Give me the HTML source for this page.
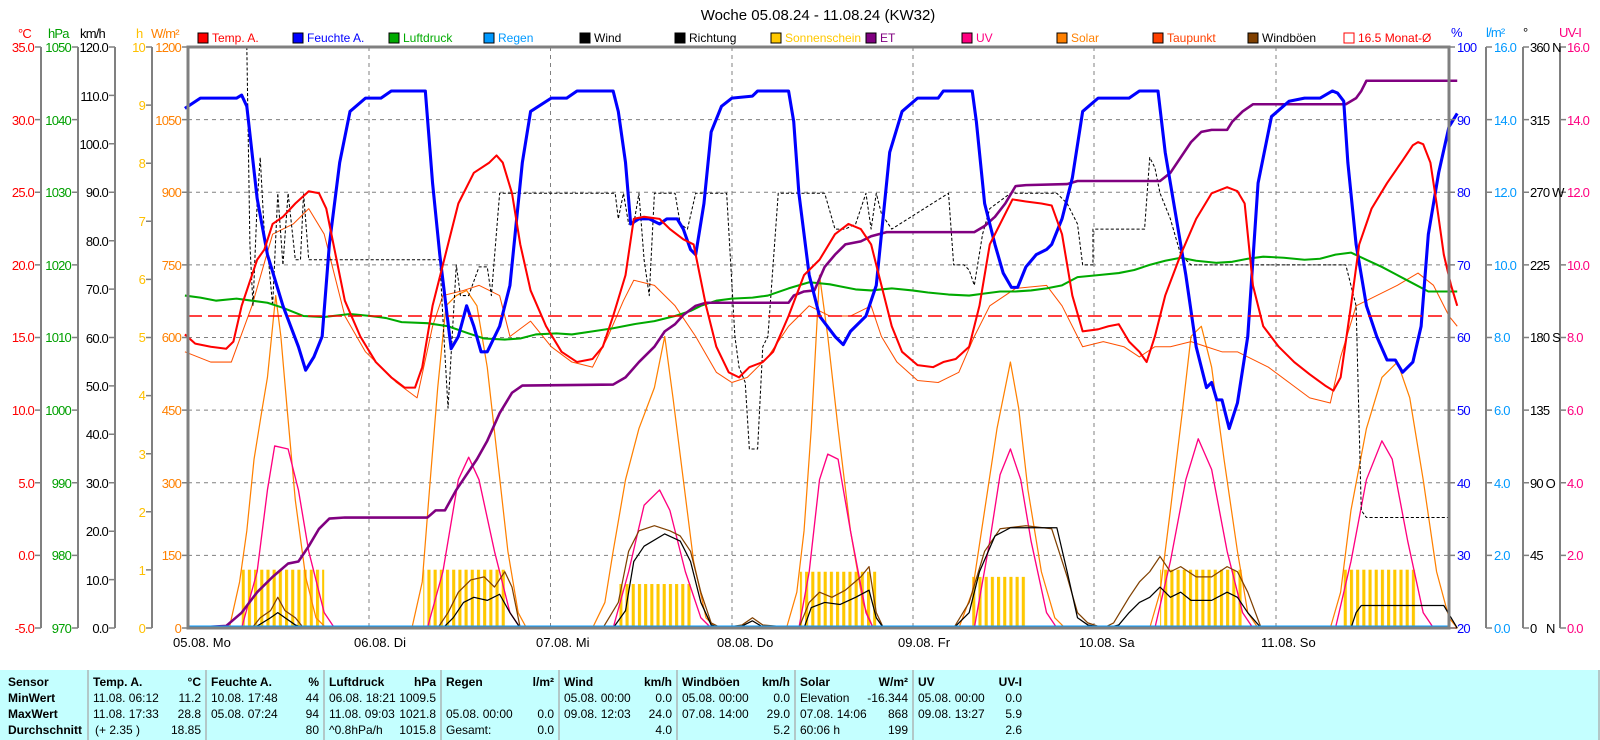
<!DOCTYPE html>
<html><head><meta charset="utf-8"><style>
html,body{margin:0;padding:0;background:#fff;}
svg{display:block;font-family:"Liberation Sans",sans-serif;}
.t{font-family:"Liberation Sans Narrow","Liberation Sans",sans-serif;font-size:12px;}
.n{font-size:13px;letter-spacing:-0.8px;}
.b{font-weight:bold;}
</style></head><body>
<svg width="1600" height="740" viewBox="0 0 1600 740" xmlns="http://www.w3.org/2000/svg">
<defs>
<pattern id="sun" x="0" y="0" width="6" height="10" patternUnits="userSpaceOnUse"><rect x="0" y="0" width="3" height="10" fill="#FFC800"/></pattern>
</defs>
<rect width="1600" height="740" fill="#fff"/>
<text x="818" y="20" font-size="15" text-anchor="middle" fill="#000">Woche 05.08.24 - 11.08.24 (KW32)</text>

<g stroke="#808080" stroke-width="1" stroke-dasharray="4,4">
<line x1="188" x2="1449" y1="119.6" y2="119.6"/><line x1="188" x2="1449" y1="192.3" y2="192.3"/>
<line x1="188" x2="1449" y1="264.9" y2="264.9"/><line x1="188" x2="1449" y1="337.5" y2="337.5"/>
<line x1="188" x2="1449" y1="410.1" y2="410.1"/><line x1="188" x2="1449" y1="482.8" y2="482.8"/>
<line x1="188" x2="1449" y1="555.4" y2="555.4"/>
<line x1="369" x2="369" y1="47" y2="628"/><line x1="550.5" x2="550.5" y1="47" y2="628"/>
<line x1="732" x2="732" y1="47" y2="628"/><line x1="913" x2="913" y1="47" y2="628"/>
<line x1="1094" x2="1094" y1="47" y2="628"/><line x1="1276" x2="1276" y1="47" y2="628"/>
</g>

<g transform="matrix(1.0319 0 0 1.0229 -6.0 -1.076)" fill="none" stroke-linejoin="round">
<rect x="240" y="558" width="80" height="57" fill="url(#sun)"/>
<rect x="416" y="558" width="80" height="57" fill="url(#sun)"/>
<rect x="606" y="572" width="70" height="43" fill="url(#sun)"/>
<rect x="781" y="560" width="74" height="55" fill="url(#sun)"/>
<rect x="946" y="565" width="55" height="50" fill="url(#sun)"/>
<rect x="1130" y="558" width="80" height="57" fill="url(#sun)"/>
<rect x="1306" y="558" width="74" height="57" fill="url(#sun)"/>
<polyline stroke="#FF8000" stroke-width="1.2" points="188,615 228,615 238,570 245,520 252,450 260,400 265,370 270,320 273,290 278,330 284,400 292,490 302,565 312,605 322,615 405,615 415,570 422,480 430,380 438,300 448,290 458,285 468,300 478,360 488,450 498,540 508,600 516,615 580,615 592,590 600,540 612,470 625,420 640,380 650,330 658,390 668,470 678,550 690,605 700,615 768,615 778,580 785,520 792,420 800,270 808,330 818,420 830,520 842,590 852,615 935,615 948,580 960,500 972,420 985,355 993,400 1002,480 1015,560 1028,605 1038,615 1120,615 1130,580 1140,500 1152,400 1160,330 1170,320 1180,360 1192,450 1205,540 1215,600 1225,615 1295,615 1305,580 1315,500 1330,420 1345,370 1360,355 1372,390 1385,470 1398,560 1410,605 1418,615"/>
<polyline stroke="#FF5000" stroke-width="1" points="185,345 210,355 230,355 250,300 270,230 290,220 305,205 320,230 340,310 360,345 390,375 410,390 425,320 435,290 455,285 470,280 490,290 500,330 520,315 540,340 560,355 580,360 595,330 610,295 620,275 640,280 660,300 680,330 700,365 715,375 730,370 750,350 770,320 790,300 810,310 830,310 850,300 860,330 875,355 895,373 915,375 935,365 950,330 965,300 990,283 1020,280 1035,300 1055,340 1075,335 1095,340 1110,350 1125,340 1140,340 1160,335 1175,340 1190,345 1205,345 1215,350 1235,360 1255,375 1275,390 1295,395 1305,350 1320,300 1340,290 1360,280 1380,268 1395,280 1410,310 1418,320"/>
<polyline stroke="#FF0080" stroke-width="1.3" points="188,615 240,615 255,560 265,480 272,437 285,440 295,480 305,540 320,600 330,615 420,615 435,560 450,470 460,448 470,470 485,540 500,600 510,615 600,615 615,560 630,495 645,480 655,500 670,560 685,605 695,615 780,615 790,560 800,470 808,445 818,450 830,520 845,600 852,615 950,615 965,530 975,465 985,440 995,470 1005,530 1020,600 1030,615 1125,615 1140,550 1155,470 1167,430 1180,460 1195,540 1210,600 1220,615 1300,615 1315,550 1330,470 1345,432 1355,450 1370,530 1385,600 1395,615 1418,615"/>
<polyline stroke="#804000" stroke-width="1.2" points="188,615 250,615 258,605 268,598 275,585 282,598 292,605 300,615 430,615 440,600 450,580 462,568 475,565 485,575 495,560 502,575 510,615 590,615 605,590 615,540 625,520 640,515 655,520 665,525 675,540 685,580 695,610 705,615 725,612 735,605 745,612 780,615 790,590 800,580 812,585 825,578 840,565 848,555 855,600 862,615 930,615 945,590 960,540 975,518 1000,515 1025,518 1040,565 1050,600 1060,610 1075,615 1085,610 1100,585 1110,570 1120,560 1130,545 1140,560 1150,555 1165,565 1180,565 1195,555 1205,560 1215,580 1228,615 1418,615"/>
<polyline stroke="#000" stroke-width="1.2" points="188,615 252,615 260,610 268,605 275,600 282,605 292,612 300,615 435,615 445,605 455,590 465,585 478,588 490,582 500,600 510,615 600,615 612,598 620,550 630,535 650,523 665,530 675,550 685,590 695,612 705,615 725,613 735,608 745,614 785,615 792,595 805,590 820,592 835,585 848,578 855,605 862,615 930,615 945,600 955,560 970,525 985,517 1030,517 1040,560 1050,605 1060,612 1078,615 1090,612 1100,600 1110,590 1120,585 1130,575 1140,585 1150,580 1160,588 1180,588 1195,580 1205,585 1215,600 1228,615 1315,615 1320,600 1325,593 1405,593 1418,615"/>
<polyline stroke="#000" stroke-width="1" stroke-dasharray="3,2" points="245,47 248,240 251,300 255,200 258,155 262,230 266,255 270,300 275,190 280,260 285,190 292,255 297,255 300,190 305,255 310,255 432,255 436,330 440,400 444,330 448,260 452,290 460,290 470,262 478,262 482,290 490,190 602,190 605,215 610,190 615,220 620,220 625,190 630,255 635,290 640,190 660,190 665,220 672,225 680,190 710,190 718,330 722,360 728,375 732,440 740,440 745,340 750,330 760,190 805,190 815,225 825,225 835,220 845,190 850,225 855,190 860,210 870,225 925,190 930,260 940,260 945,265 950,280 958,230 965,205 985,190 1030,190 1040,200 1050,220 1055,260 1065,260 1065,225 1105,225 1115,225 1120,155 1125,165 1130,190 1140,215 1150,250 1160,260 1300,260 1310,260 1320,300 1325,500 1330,507 1410,507"/>
<polyline stroke="#00AA00" stroke-width="2" points="185,290 200,292 215,295 235,293 250,295 265,297 280,302 300,310 320,311 345,308 365,310 380,312 395,316 420,317 440,320 460,327 475,332 495,333 510,332 525,328 545,327 560,328 580,325 600,322 620,318 640,315 660,310 675,305 685,300 700,295 715,293 735,292 750,290 770,283 790,277 800,278 810,279 820,281 835,284 850,285 870,283 890,285 905,287 925,289 945,290 960,288 975,286 990,286 1005,285 1020,283 1035,280 1050,272 1070,270 1090,268 1105,265 1120,260 1135,256 1150,253 1165,256 1185,258 1200,257 1215,254 1230,252 1250,253 1270,255 1285,254 1300,250 1315,248 1330,255 1345,262 1360,270 1375,278 1390,286 1418,286"/>
<polyline stroke="#800080" stroke-width="2.5" points="188,615 225,613 240,600 255,580 270,565 285,552 295,550 305,535 315,518 325,508 340,507 420,507 428,500 437,500 448,480 458,465 468,450 478,432 490,405 502,385 512,378 600,377 612,370 625,355 640,340 650,325 660,318 668,309 680,300 690,297 770,297 775,290 785,286 795,285 805,262 815,250 825,240 840,237 850,232 865,228 950,228 960,222 970,213 980,200 990,183 1000,182 1040,181 1050,178 1130,178 1140,170 1150,155 1160,140 1170,130 1180,128 1195,128 1200,120 1210,110 1220,103 1230,103 1310,103 1320,97 1325,90 1330,80 1418,80"/>
<polyline stroke="#0000FF" stroke-width="3" points="185,107 200,97 235,97 240,94 245,105 255,195 265,250 280,300 295,340 302,363 310,350 318,330 325,240 335,160 345,110 360,97 375,97 385,90 418,90 425,180 432,250 438,300 443,342 450,330 458,300 465,320 472,345 478,345 490,320 500,280 505,230 512,160 520,110 540,97 555,97 565,90 600,90 605,110 612,160 617,220 625,215 635,215 645,220 652,215 662,215 668,225 675,245 680,250 688,200 695,130 705,105 715,97 735,95 740,90 770,90 775,120 780,190 790,270 800,310 815,330 823,338 830,325 845,310 855,280 860,230 868,150 880,110 895,97 915,97 920,90 948,90 952,120 960,200 970,240 978,268 986,282 992,282 1000,262 1010,250 1020,245 1025,240 1035,215 1045,175 1055,110 1070,97 1100,97 1110,90 1128,90 1135,150 1145,210 1155,270 1165,340 1175,380 1180,375 1185,392 1190,392 1197,420 1205,395 1215,330 1225,180 1238,115 1255,100 1270,97 1285,97 1297,90 1302,92 1308,100 1312,160 1320,240 1330,300 1340,330 1350,353 1358,353 1365,365 1375,355 1383,320 1390,230 1400,170 1410,125 1418,112"/>
<polyline stroke="#FF0000" stroke-width="2" points="185,328 195,337 210,340 225,342 232,335 240,300 255,255 262,245 270,220 280,213 292,200 305,188 315,190 322,205 330,245 340,295 355,330 370,355 385,370 398,380 408,380 415,360 425,300 440,240 450,200 465,170 480,160 487,153 493,160 502,190 510,240 520,285 535,320 550,345 565,355 580,352 590,340 600,310 612,270 620,215 630,213 645,215 655,225 668,235 678,240 690,300 700,340 712,365 722,370 732,360 745,355 755,345 770,310 785,270 800,255 815,230 828,220 840,225 850,240 860,280 870,320 880,345 895,358 910,360 920,355 932,352 945,340 955,300 965,240 975,220 987,196 1000,198 1015,200 1025,202 1035,230 1045,290 1055,325 1070,323 1080,320 1090,318 1100,335 1110,345 1117,355 1125,330 1135,290 1150,250 1165,215 1180,190 1195,184 1205,188 1212,200 1220,280 1230,320 1245,340 1260,355 1275,367 1290,378 1298,383 1305,370 1315,300 1323,240 1335,205 1350,180 1365,158 1375,143 1380,140 1385,142 1392,160 1398,200 1405,250 1412,280 1418,300"/>
</g>
<line x1="188" x2="1449" y1="316" y2="316" stroke="#FF0000" stroke-width="1.5" stroke-dasharray="14,6"/>
<line x1="188" x2="1449" y1="627" y2="627" stroke="#0099FF" stroke-width="3"/>

<rect x="188" y="47" width="1261" height="581" fill="none" stroke="#808080" stroke-width="3"/>

<g stroke="#808080" stroke-width="2">
<line x1="41" x2="41" y1="47" y2="628"/><line x1="78" x2="78" y1="47" y2="628"/>
<line x1="115" x2="115" y1="47" y2="628"/><line x1="152" x2="152" y1="47" y2="628"/>
<line x1="1486" x2="1486" y1="47" y2="628"/><line x1="1523" x2="1523" y1="47" y2="628"/>
<line x1="1560" x2="1560" y1="47" y2="628"/>
</g>
<g class="n">
<text x="18" y="38" fill="#FF0000">°C</text><text x="48" y="38" fill="#00A000">hPa</text>
<text x="80" y="38" fill="#000">km/h</text><text x="136" y="38" fill="#FFC000">h</text>
<text x="151" y="38" fill="#FF8000">W/m²</text>
<text x="1451" y="37" fill="#0000FF">%</text><text x="1486" y="37" fill="#0099FF">l/m²</text>
<text x="1523" y="37" fill="#000">°</text><text x="1559" y="37" fill="#FF0080">UV-I</text>
</g>
<g text-anchor="end" class="n">
<g fill="#FF0000"><text x="34" y="52">35.0</text><text x="34" y="125">30.0</text><text x="34" y="197">25.0</text><text x="34" y="270">20.0</text><text x="34" y="342">15.0</text><text x="34" y="415">10.0</text><text x="34" y="488">5.0</text><text x="34" y="560">0.0</text><text x="34" y="633">-5.0</text></g>
<g fill="#00A000"><text x="71" y="52">1050</text><text x="71" y="125">1040</text><text x="71" y="197">1030</text><text x="71" y="270">1020</text><text x="71" y="342">1010</text><text x="71" y="415">1000</text><text x="71" y="488">990</text><text x="71" y="560">980</text><text x="71" y="633">970</text></g>
<g fill="#000"><text x="108" y="52">120.0</text><text x="108" y="101">110.0</text><text x="108" y="149">100.0</text><text x="108" y="197">90.0</text><text x="108" y="246">80.0</text><text x="108" y="294">70.0</text><text x="108" y="343">60.0</text><text x="108" y="391">50.0</text><text x="108" y="439">40.0</text><text x="108" y="488">30.0</text><text x="108" y="536">20.0</text><text x="108" y="585">10.0</text><text x="108" y="633">0.0</text></g>
<g fill="#FFC000"><text x="145" y="52">10</text><text x="145" y="110">9</text><text x="145" y="168">8</text><text x="145" y="226">7</text><text x="145" y="284">6</text><text x="145" y="342">5</text><text x="145" y="400">4</text><text x="145" y="459">3</text><text x="145" y="517">2</text><text x="145" y="575">1</text><text x="145" y="633">0</text></g>
<g fill="#FF8000"><text x="181" y="52">1200</text><text x="181" y="125">1050</text><text x="181" y="197">900</text><text x="181" y="270">750</text><text x="181" y="342">600</text><text x="181" y="415">450</text><text x="181" y="488">300</text><text x="181" y="560">150</text><text x="181" y="633">0</text></g>
</g>
<g stroke="#808080" stroke-width="1.5">
<path d="M35 47H41M35 119.6H41M35 192.3H41M35 264.9H41M35 337.5H41M35 410.1H41M35 482.8H41M35 555.4H41M35 628H41"/>
<path d="M72 47H78M72 119.6H78M72 192.3H78M72 264.9H78M72 337.5H78M72 410.1H78M72 482.8H78M72 555.4H78M72 628H78"/>
<path d="M109 47H115M109 95.4H115M109 143.8H115M109 192.3H115M109 240.7H115M109 289.1H115M109 337.5H115M109 385.9H115M109 434.3H115M109 482.8H115M109 531.2H115M109 579.6H115M109 628H115"/>
<path d="M146 47H152M146 105.1H152M146 163.2H152M146 221.3H152M146 279.4H152M146 337.5H152M146 395.6H152M146 453.7H152M146 511.8H152M146 569.9H152M146 628H152"/>
<path d="M182 47H188M182 119.6H188M182 192.3H188M182 264.9H188M182 337.5H188M182 410.1H188M182 482.8H188M182 555.4H188M182 628H188"/>
<path d="M1449 47H1455M1449 119.6H1455M1449 192.3H1455M1449 264.9H1455M1449 337.5H1455M1449 410.1H1455M1449 482.8H1455M1449 555.4H1455M1449 628H1455"/>
<path d="M1486 47H1492M1486 119.6H1492M1486 192.3H1492M1486 264.9H1492M1486 337.5H1492M1486 410.1H1492M1486 482.8H1492M1486 555.4H1492M1486 628H1492"/>
<path d="M1523 47H1529M1523 119.6H1529M1523 192.3H1529M1523 264.9H1529M1523 337.5H1529M1523 410.1H1529M1523 482.8H1529M1523 555.4H1529M1523 628H1529"/>
<path d="M1560 47H1566M1560 119.6H1566M1560 192.3H1566M1560 264.9H1566M1560 337.5H1566M1560 410.1H1566M1560 482.8H1566M1560 555.4H1566M1560 628H1566"/>
</g>
<g class="n">
<g fill="#0000FF"><text x="1457" y="52">100</text><text x="1457" y="125">90</text><text x="1457" y="197">80</text><text x="1457" y="270">70</text><text x="1457" y="342">60</text><text x="1457" y="415">50</text><text x="1457" y="488">40</text><text x="1457" y="560">30</text><text x="1457" y="633">20</text></g>
<g fill="#0099FF"><text x="1494" y="52">16.0</text><text x="1494" y="125">14.0</text><text x="1494" y="197">12.0</text><text x="1494" y="270">10.0</text><text x="1494" y="342">8.0</text><text x="1494" y="415">6.0</text><text x="1494" y="488">4.0</text><text x="1494" y="560">2.0</text><text x="1494" y="633">0.0</text></g>
<g fill="#000"><text x="1530" y="52">360 N</text><text x="1530" y="125">315</text><text x="1530" y="197">270 W</text><text x="1530" y="270">225</text><text x="1530" y="342">180 S</text><text x="1530" y="415">135</text><text x="1530" y="488">90 O</text><text x="1530" y="560">45</text><text x="1530" y="633">0</text><text x="1546" y="633">N</text></g>
<g fill="#FF0080"><text x="1567" y="52">16.0</text><text x="1567" y="125">14.0</text><text x="1567" y="197">12.0</text><text x="1567" y="270">10.0</text><text x="1567" y="342">8.0</text><text x="1567" y="415">6.0</text><text x="1567" y="488">4.0</text><text x="1567" y="560">2.0</text><text x="1567" y="633">0.0</text></g>
</g>

<g font-size="13" fill="#000">
<text x="173" y="647">05.08.  Mo</text><text x="354" y="647">06.08.  Di</text><text x="536" y="647">07.08.  Mi</text>
<text x="717" y="647">08.08.  Do</text><text x="898" y="647">09.08.  Fr</text><text x="1079" y="647">10.08.  Sa</text><text x="1261" y="647">11.08.  So</text>
</g>

<g font-size="12">
<rect x="198" y="33" width="10" height="10" fill="#FF0000" stroke="#000"/><text x="212" y="42" fill="#FF0000">Temp. A.</text>
<rect x="293" y="33" width="10" height="10" fill="#0000FF" stroke="#000"/><text x="307" y="42" fill="#0000FF">Feuchte A.</text>
<rect x="389" y="33" width="10" height="10" fill="#00AA00" stroke="#000"/><text x="403" y="42" fill="#00AA00">Luftdruck</text>
<rect x="484" y="33" width="10" height="10" fill="#0099FF" stroke="#000"/><text x="498" y="42" fill="#0099FF">Regen</text>
<rect x="580" y="33" width="10" height="10" fill="#000" stroke="#000"/><text x="594" y="42" fill="#000">Wind</text>
<rect x="675" y="33" width="10" height="10" fill="#000" stroke="#000"/><text x="689" y="42" fill="#000">Richtung</text>
<rect x="771" y="33" width="10" height="10" fill="#FFC800" stroke="#000"/><text x="785" y="42" fill="#FFC800">Sonnenschein</text>
<rect x="866" y="33" width="10" height="10" fill="#800080" stroke="#000"/><text x="880" y="42" fill="#800080">ET</text>
<rect x="962" y="33" width="10" height="10" fill="#FF0080" stroke="#000"/><text x="976" y="42" fill="#FF0080">UV</text>
<rect x="1057" y="33" width="10" height="10" fill="#FF8000" stroke="#000"/><text x="1071" y="42" fill="#FF8000">Solar</text>
<rect x="1153" y="33" width="10" height="10" fill="#FF4000" stroke="#000"/><text x="1167" y="42" fill="#FF4000">Taupunkt</text>
<rect x="1248" y="33" width="10" height="10" fill="#804000" stroke="#000"/><text x="1262" y="42" fill="#000">Windböen</text>
<rect x="1344" y="33" width="10" height="10" fill="#fff" stroke="#FF0000"/><text x="1358" y="42" fill="#FF0000">16.5 Monat-Ø</text>
</g>

<rect x="0" y="670" width="1600" height="70" fill="#C4FFFF"/>
<g stroke="#A09090" stroke-width="1">
<line x1="88" x2="88" y1="670" y2="740"/><line x1="206" x2="206" y1="670" y2="740"/>
<line x1="324" x2="324" y1="670" y2="740"/><line x1="441" x2="441" y1="670" y2="740"/>
<line x1="559" x2="559" y1="670" y2="740"/><line x1="677" x2="677" y1="670" y2="740"/>
<line x1="795" x2="795" y1="670" y2="740"/><line x1="913" x2="913" y1="670" y2="740"/>
<line x1="1599" x2="1599" y1="670" y2="740"/>
</g>
<g class="t" fill="#000">
<text class="b" x="8" y="686">Sensor</text><text class="b" x="8" y="702">MinWert</text><text class="b" x="8" y="718">MaxWert</text><text class="b" x="8" y="734">Durchschnitt</text>
<text class="b" x="93" y="686">Temp. A.</text><text class="b" x="201" y="686" text-anchor="end">°C</text>
<text x="93" y="702">11.08.  06:12</text><text x="201" y="702" text-anchor="end">11.2</text>
<text x="93" y="718">11.08.  17:33</text><text x="201" y="718" text-anchor="end">28.8</text>
<text x="95" y="734">(+ 2.35 )</text><text x="201" y="734" text-anchor="end">18.85</text>
<text class="b" x="211" y="686">Feuchte A.</text><text class="b" x="319" y="686" text-anchor="end">%</text>
<text x="211" y="702">10.08.  17:48</text><text x="319" y="702" text-anchor="end">44</text>
<text x="211" y="718">05.08.  07:24</text><text x="319" y="718" text-anchor="end">94</text>
<text x="319" y="734" text-anchor="end">80</text>
<text class="b" x="329" y="686">Luftdruck</text><text class="b" x="436" y="686" text-anchor="end">hPa</text>
<text x="329" y="702">06.08.  18:21</text><text x="436" y="702" text-anchor="end">1009.5</text>
<text x="329" y="718">11.08.  09:03</text><text x="436" y="718" text-anchor="end">1021.8</text>
<text x="329" y="734">^0.8hPa/h</text><text x="436" y="734" text-anchor="end">1015.8</text>
<text class="b" x="446" y="686">Regen</text><text class="b" x="554" y="686" text-anchor="end">l/m²</text>
<text x="446" y="718">05.08.  00:00</text><text x="554" y="718" text-anchor="end">0.0</text>
<text x="446" y="734">Gesamt:</text><text x="554" y="734" text-anchor="end">0.0</text>
<text class="b" x="564" y="686">Wind</text><text class="b" x="672" y="686" text-anchor="end">km/h</text>
<text x="564" y="702">05.08.  00:00</text><text x="672" y="702" text-anchor="end">0.0</text>
<text x="564" y="718">09.08.  12:03</text><text x="672" y="718" text-anchor="end">24.0</text>
<text x="672" y="734" text-anchor="end">4.0</text>
<text class="b" x="682" y="686">Windböen</text><text class="b" x="790" y="686" text-anchor="end">km/h</text>
<text x="682" y="702">05.08.  00:00</text><text x="790" y="702" text-anchor="end">0.0</text>
<text x="682" y="718">07.08.  14:00</text><text x="790" y="718" text-anchor="end">29.0</text>
<text x="790" y="734" text-anchor="end">5.2</text>
<text class="b" x="800" y="686">Solar</text><text class="b" x="908" y="686" text-anchor="end">W/m²</text>
<text x="800" y="702">Elevation</text><text x="908" y="702" text-anchor="end">-16.344</text>
<text x="800" y="718">07.08.  14:06</text><text x="908" y="718" text-anchor="end">868</text>
<text x="800" y="734">60:06 h</text><text x="908" y="734" text-anchor="end">199</text>
<text class="b" x="918" y="686">UV</text><text class="b" x="1022" y="686" text-anchor="end">UV-I</text>
<text x="918" y="702">05.08.  00:00</text><text x="1022" y="702" text-anchor="end">0.0</text>
<text x="918" y="718">09.08.  13:27</text><text x="1022" y="718" text-anchor="end">5.9</text>
<text x="1022" y="734" text-anchor="end">2.6</text>
</g>
</svg>
</body></html>
